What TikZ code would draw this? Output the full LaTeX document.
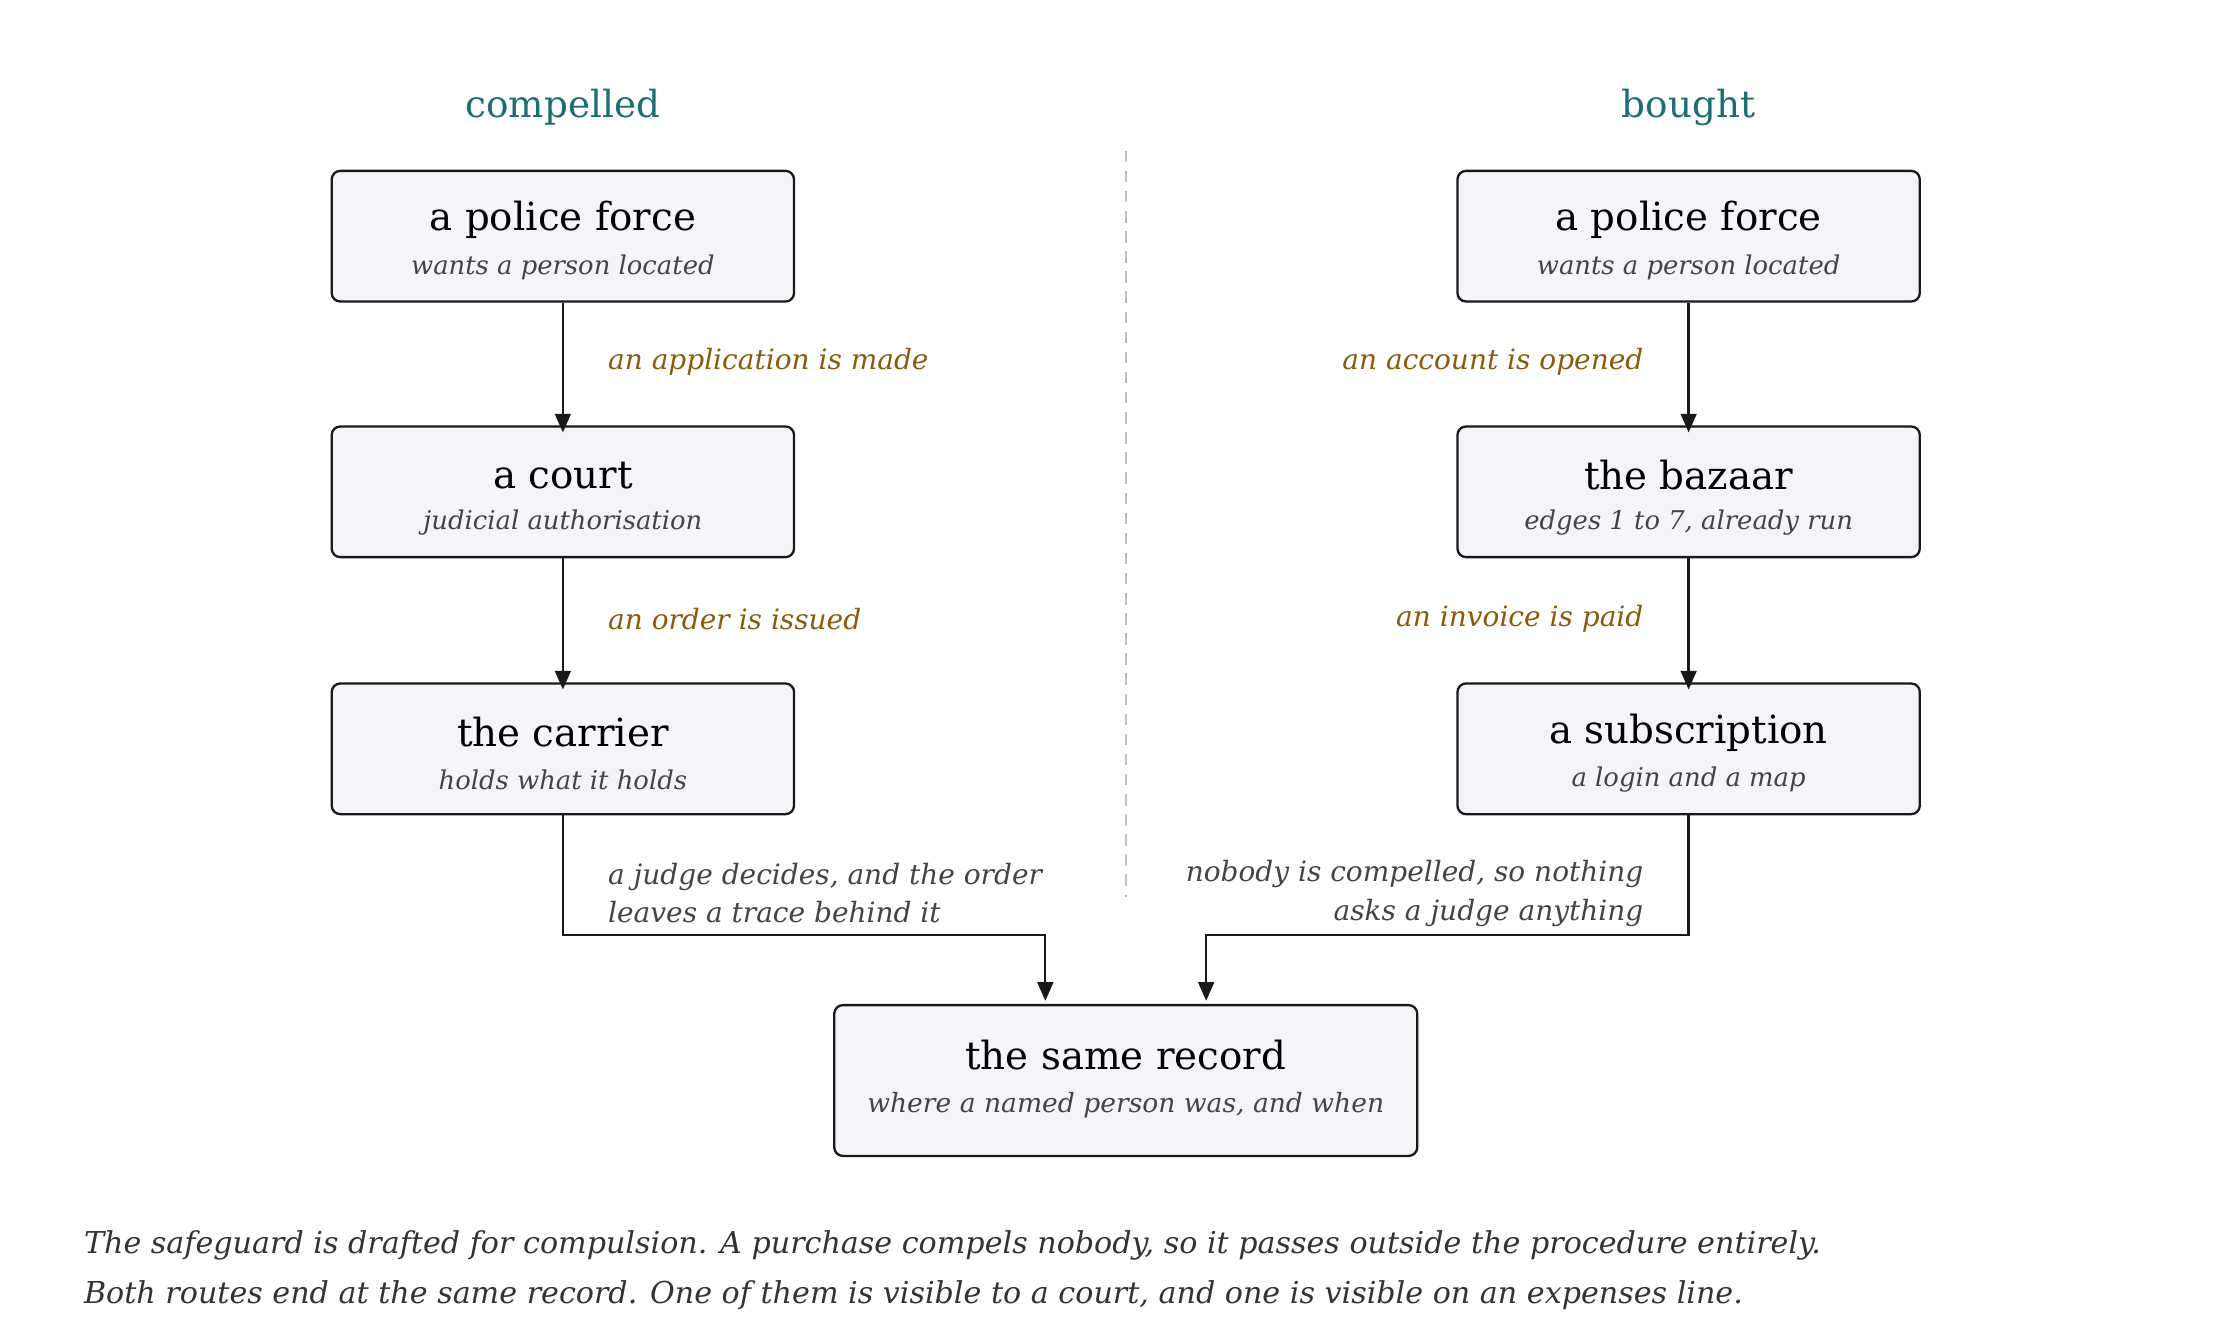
\documentclass[tikz,border=0pt]{standalone}
\usepackage{fontspec}
\setmainfont{DejaVu Serif}
\usetikzlibrary{arrows.meta}
\definecolor{teal2}{HTML}{1B6E72}
\definecolor{lab}{HTML}{8C5A0A}
\definecolor{boxf}{HTML}{F4F5F9}
\definecolor{sub}{HTML}{444444}
\begin{document}
\begin{tikzpicture}[x=1pt,y=-1pt,
 box/.style={draw=black!90,line width=1.6pt,rounded corners=6pt,fill=boxf,minimum width=322pt,minimum height=91pt,align=center,inner sep=0pt},
 ttl/.style={font=\fontsize{27}{32}\selectfont},
 st/.style={font=\itshape\fontsize{18}{22}\selectfont,text=sub},
 lb/.style={font=\itshape\fontsize{19.5}{23}\selectfont,text=lab},
 hd/.style={font=\fontsize{26}{30}\selectfont,text=teal2},
 arr/.style={line width=1.6pt,draw=black!90,-{Triangle[length=13pt,width=11pt]}}]
\useasboundingbox (0,0) rectangle (1560,933);
\node[hd] (h1) at (392,75) {compelled};
\node[hd] (h2) at (1176,75) {bought};
\draw[black!25,line width=1.2pt,dash pattern=on 8pt off 6pt] (784,105) -- (784,625);
\node[box] (a1) at (392,164.5) {};
\node[ttl] (a1t) at (392,153) {a police force};
\node[st] (a1s) at (392,186) {wants a person located};
\node[box] (a2) at (392,342.5) {};
\node[ttl] (a2t) at (392,331) {a court};
\node[st] (a2s) at (392,364) {judicial authorisation};
\node[box] (a3) at (392,521.5) {};
\node[ttl] (a3t) at (392,510) {the carrier};
\node[st] (a3s) at (392,543) {holds what it holds};
\node[box] (b1) at (1176,164.5) {};
\node[ttl] (b1t) at (1176,153) {a police force};
\node[st] (b1s) at (1176,186) {wants a person located};
\node[box] (b2) at (1176,342.5) {};
\node[ttl] (b2t) at (1176,331) {the bazaar};
\node[st] (b2s) at (1176,364) {edges 1 to 7, already run};
\node[box] (b3) at (1176,521.5) {};
\node[ttl] (b3t) at (1176,510) {a subscription};
\node[st] (b3s) at (1176,543) {a login and a map};
\node[box,minimum width=406pt,minimum height=105pt] (c) at (784,752.5) {};
\node[ttl] (ct) at (784,735) {the same record};
\node[st,font=\itshape\fontsize{18.5}{22}\selectfont] (cs) at (784,770) {where a named person was, and when};
\draw[arr] (a1) -- ([yshift=-5pt]a2.north);
\draw[arr] (a2) -- ([yshift=-5pt]a3.north);
\draw[arr] (b1) -- ([yshift=-5pt]b2.north);
\draw[arr] (b2) -- ([yshift=-5pt]b3.north);
\coordinate (ca) at (728,697);
\coordinate (cb) at (840,697);
\draw[arr] (a3.south) -- (392,651) -- (728,651) -- (ca);
\draw[arr] (b3.south) -- (1176,651) -- (840,651) -- (cb);
\node[lb,anchor=west] (l1) at (420,252) {an application is made};
\node[lb,anchor=west] (l2) at (420,431) {an order is issued};
\node[lb,anchor=east] (l3) at (1148,252) {an account is opened};
\node[lb,anchor=east] (l4) at (1148,431) {an invoice is paid};
\node[st,font=\itshape\fontsize{19.5}{27}\selectfont,anchor=west,align=left] (l5) at (420,622) {a judge decides, and the order\\leaves a trace behind it};
\node[st,font=\itshape\fontsize{19.5}{27}\selectfont,anchor=east,align=right] (l6) at (1148,622) {nobody is compelled, so nothing\\asks a judge anything};
\node[font=\itshape\fontsize{21}{35}\selectfont,text=black!80,anchor=west,align=left] (cap) at (55,884.5) {The safeguard is drafted for compulsion. A purchase compels nobody, so it passes outside the procedure entirely.\\Both routes end at the same record. One of them is visible to a court, and one is visible on an expenses line.};
\end{tikzpicture}
\end{document}
